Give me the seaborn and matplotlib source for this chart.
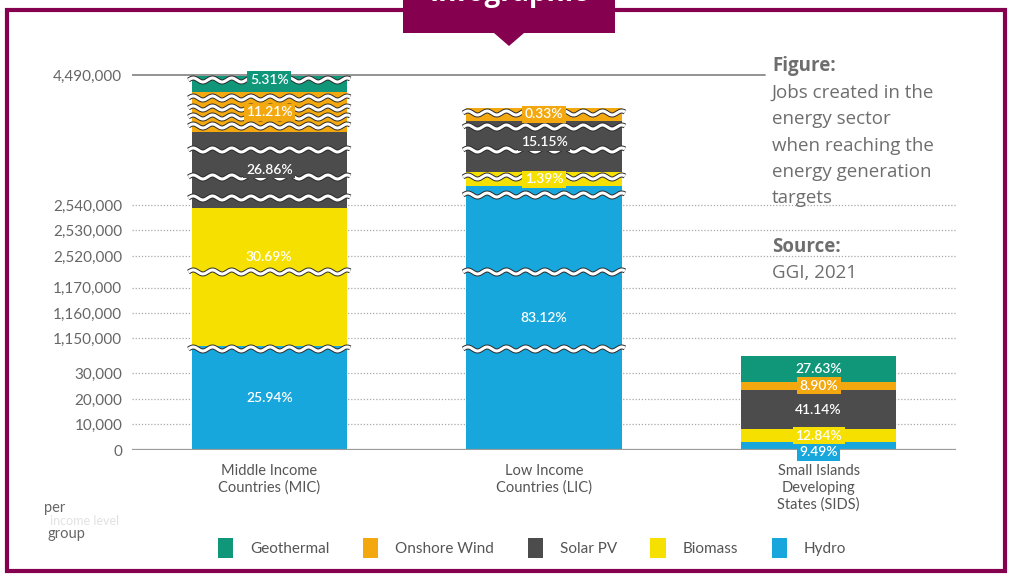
import numpy as np
import matplotlib
matplotlib.use("Agg")
import matplotlib.pyplot as plt
import matplotlib.patches as mpatches
import seaborn as sns

# income groups on the x axis
groups = ["Middle Income\nCountries (MIC)", "Low Income\nCountries (LIC)",
          "Small Islands\nDeveloping\nStates (SIDS)"]

# jobs per technology, as drawn against the broken axis (bottom to top)
hydro = [1_147_000, 2_825_000, 3_000]
biomass = [1_392_000, 210_000, 5_200]
solar_pv = [1_096_000, 765_000, 15_200]
onshore_wind = [600_000, 195_000, 3_300]
geothermal = [239_000, 0, 10_200]

# shares printed on the segments
hydro_pct = ["25.94%", "83.12%", "9.49%"]
biomass_pct = ["30.69%", "1.39%", "12.84%"]
solar_pct = ["26.86%", "15.15%", "41.14%"]
wind_pct = ["11.21%", "0.33%", "8.90%"]
geo_pct = ["5.31%", "", "27.63%"]

tick_values = [0, 10_000, 20_000, 30_000, 1_150_000, 1_160_000, 1_170_000,
               2_520_000, 2_530_000, 2_540_000, 4_490_000]

# zig-zag cut marks drawn across each bar
breaks = [
    [1_000_000, 2_020_000, 2_645_000, 2_960_000, 3_365_000, 3_725_000,
     3_860_000, 3_995_000, 4_145_000, 4_415_000],
    [1_000_000, 2_020_000, 2_690_000, 2_960_000, 3_365_000, 3_710_000,
     3_920_000],
    [],
]

series = ["Hydro", "Biomass", "Solar PV", "Onshore Wind", "Geothermal"]
colors = {"Hydro": "#17a7dc", "Biomass": "#f6e000", "Solar PV": "#4c4c4c",
          "Onshore Wind": "#f3a80f", "Geothermal": "#10977a"}

# broken y axis: piecewise linear mapping of job counts
knots_real = [-100_000, 0, 38_000, 1_146_000, 1_174_000, 2_515_000,
              2_540_000, 4_490_000, 6_000_000]
knots_disp = [-255.6, 0, 97.1, 101.6, 172.4, 181.3, 245, 375, 475.7]


def fwd(v):
    return np.interp(v, knots_real, knots_disp)


def inv(d):
    return np.interp(d, knots_disp, knots_real)


def px(x):
    return x / 1010


def py(y):
    return 1 - y / 577


sns.set_theme(style="white")
plt.rcParams["font.family"] = ["Lato", "DejaVu Sans"]

fig = plt.figure(figsize=(10.1, 5.77), dpi=100)
ax = fig.add_axes([px(132), py(450), px(956) - px(132), py(70) - py(450)])

segs = [hydro, biomass, solar_pv, onshore_wind, geothermal]
tops = np.cumsum(np.array(segs, dtype=float), axis=0)
bar_w = 0.565

# stacked bars: draw cumulative totals from the top series down
for i in range(len(series) - 1, -1, -1):
    sns.barplot(x=groups, y=tops[i], color=colors[series[i]], saturation=1,
                width=bar_w, ax=ax, label=series[i], linewidth=0, zorder=2)

if ax.legend_ is not None:
    ax.legend_.remove()

ax.set_yscale("function", functions=(fwd, inv))
ax.autoscale(False)
ax.set_xlim(-0.5, 2.5)
ax.set_ylim(0, inv(380))


def draw_break(xc, level):
    xs = np.linspace(xc - bar_w / 2 - 0.012, xc + bar_w / 2 + 0.012, 300)
    d = fwd(level) + 2.0 * np.sin(2 * np.pi * (xs - xs[0]) / 0.07)
    ys = inv(d)
    ax.plot(xs, ys, color="#2a2a2a", lw=3.6, solid_capstyle="butt", zorder=3)
    ax.plot(xs, ys, color="white", lw=2.2, solid_capstyle="butt", zorder=3.1)


for j, lv in enumerate(breaks):
    for b in lv:
        draw_break(j, b)

# grid lines
for t in tick_values[1:-1]:
    ax.axhline(t, color="#a8a8a8", lw=0.9, ls=(0, (1, 1.5)), zorder=1)
ax.axhline(0, color="#9a9a9a", lw=1.6, zorder=4)
ax.axhline(tick_values[-1], xmax=(765 - 132) / (956 - 132), color="#8a8a8a",
           lw=1.3, zorder=1)

ax.set_yticks(tick_values)
ax.set_yticklabels([f"{t:,}" for t in tick_values])
ax.tick_params(axis="y", length=0, pad=7, labelsize=11, labelcolor="#666666")
ax.tick_params(axis="x", length=0, pad=10, labelsize=10.5, labelcolor="#555555")
for lab in ax.get_xticklabels():
    lab.set_linespacing(1.25)
    lab.set_verticalalignment("top")
ax.set_xlabel("")
ax.set_ylabel("")
sns.despine(ax=ax, left=True, bottom=True)

# segment labels
pcts = [hydro_pct, biomass_pct, solar_pct, wind_pct, geo_pct]
nudge = {(1, 0): 20, (4, 0): 4.5, (0, 2): -6, (2, 1): 4}
for i, name in enumerate(series):
    for j in range(len(groups)):
        if not pcts[i][j]:
            continue
        lo = fwd(tops[i][j] - segs[i][j])
        hi = fwd(tops[i][j])
        mid = (lo + hi) / 2 + nudge.get((i, j), 0)
        ax.text(j, inv(mid), pcts[i][j], ha="center", va="center",
                color="white", fontsize=10, fontweight="semibold", zorder=5,
                bbox=dict(boxstyle="square,pad=0.18", fc=colors[name], ec="none"))

# legend
handles, labels = ax.get_legend_handles_labels()
leg = fig.legend(handles, labels, ncol=5, loc="center",
                 bbox_to_anchor=(px(532), py(548)), frameon=False,
                 handlelength=1.0, handleheight=1.7, handletextpad=1.1,
                 columnspacing=2.2, fontsize=11)
for t in leg.get_texts():
    t.set_color("#555555")

# side note
note_font = ["Open Sans", "DejaVu Sans"]
fig.text(px(772), py(66), "Figure:", fontsize=13.5, fontweight="bold",
         color="#6e6e6e", va="center", family=note_font)
for k, line in enumerate(["Jobs created in the", "energy sector",
                          "when reaching the", "energy generation", "targets"]):
    fig.text(px(772), py(93 + k * 26.3), line, fontsize=13.5, color="#6e6e6e",
             va="center", family=note_font)
fig.text(px(772), py(247), "Source:", fontsize=13.5, fontweight="bold",
         color="#6e6e6e", va="center", family=note_font)
fig.text(px(772), py(273), "GGI, 2021", fontsize=13.5, color="#6e6e6e",
         va="center", family=note_font)

# stray axis caption at bottom left
fig.text(px(44), py(508), "per", fontsize=10.5, color="#666666", va="center")
fig.text(px(50), py(521), "income level", fontsize=9, color="#e2e2e2", va="center")
fig.text(px(48), py(534), "group", fontsize=10.5, color="#666666", va="center")

# infographic frame and tab
purple = "#860050"
fig.patches.append(mpatches.Rectangle((px(7), py(571)), px(1005) - px(7),
                                      py(10) - py(571), transform=fig.transFigure,
                                      fill=False, ec=purple, lw=3.0))
fig.patches.append(mpatches.Rectangle((px(403), py(33)), px(615) - px(403),
                                      py(0) - py(33) + 0.02, transform=fig.transFigure,
                                      fc=purple, ec="none"))
fig.patches.append(mpatches.Polygon([(px(494), py(33)), (px(524), py(33)),
                                     (px(509), py(46))], closed=True,
                                    transform=fig.transFigure, fc=purple, ec="none"))
fig.text(px(509), py(-6), "Infographic", fontsize=20, fontweight="bold",
         color="white", ha="center", va="center", family=note_font)

fig.savefig("out.png", dpi=100)
